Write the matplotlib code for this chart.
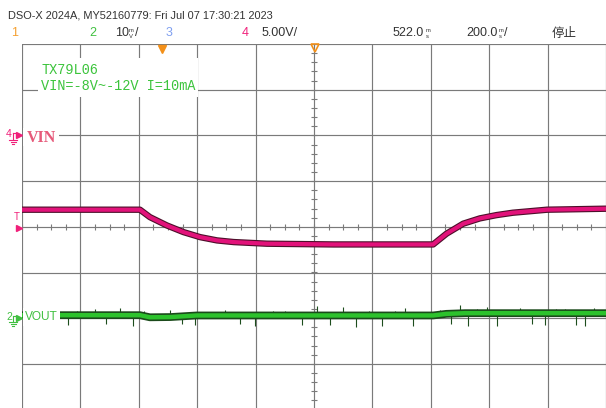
import numpy as np
import matplotlib.pyplot as plt
from matplotlib.patches import Rectangle

# scope settings
t_per_div = 200.0      # ms/div
t_delay = 522.0        # ms at screen centre
ch4_scale = 5.0        # V/div  (VIN)
ch4_offset = 2.0       # ground marker, divisions above centre
ch2_scale = 10.0       # mV/div (VOUT)
ch2_offset = -2.0      # ground marker, divisions below centre

# channel 4: VIN (V)
vin_t = [-478, -74, -40, 18, 75, 132, 190, 247, 361, 590, 930, 976, 1033, 1090, 1147, 1203, 1320, 1522]
vin_v = [-8.13, -8.13, -8.94, -9.85, -10.58, -11.13, -11.49, -11.67, -11.85, -11.93, -11.93,
         -10.75, -9.66, -9.08, -8.72, -8.46, -8.13, -8.02]

# channel 2: VOUT deviation (mV)
vout_t = [-478, -74, -40, 30, 120, 930, 975, 1040, 1522]
vout_mv = [0.66, 0.66, 0.2, 0.25, 0.6, 0.6, 0.95, 1.1, 1.1]

# noise spikes on VOUT
spike_t = [-320, -290, -228, -190, -142, -98, -60, 29, 70, 114, 160, 217, 270, 320, 380, 423,
           480, 532, 577, 621, 666, 710, 755, 800, 834, 861, 900, 953, 990, 1022, 1049, 1080,
           1114, 1149, 1190, 1227, 1270, 1313, 1350, 1382, 1420, 1450, 1480, 1501]
spike_mv = [-1.5, 1.6, 2.0, -1.3, 2.2, -1.6, 1.5, 1.9, -1.2, -1.5, 1.4, 1.8, -1.3, -1.8, 1.5, 1.6,
            -1.4, 2.6, -1.4, 2.4, -1.9, 1.5, -1.6, 1.6, 2.3, -1.8, 1.4, 1.8, -1.2, 2.8, -1.6, 2.0,
            2.4, -1.7, 1.9, 2.2, -1.3, -1.5, 2.1, 2.0, -1.4, -1.6, 2.2, 1.8]

header = "DSO-X 2024A, MY52160779: Fri Jul 07 17:30:21 2023"
note_lines = ["TX79L06", "VIN=-8V~-12V I=10mA"]

W, H = 606, 408
sans = ['Liberation Sans', 'DejaVu Sans']

def tdiv(t):
    return (np.asarray(t, float) - t_delay) / t_per_div + 5


fig = plt.figure(figsize=(W / 100, H / 100), dpi=100)
fig.patch.set_facecolor('white')

# graticule: 10 x 8 divisions, bottom edge runs just off the image
ax = fig.add_axes([22 / W, 1 - 409.6 / H, 584 / W, 365.6 / H])
ax.set_xlim(0, 10)
ax.set_ylim(-4, 4)
ax.axis('off')
grid_c = '#7a7a7a'
for i in range(11):
    ax.axvline(i, color=grid_c, lw=0.85, zorder=1)
for j in range(-4, 5):
    ax.axhline(j, color=grid_c, lw=0.85, zorder=1)
hx = np.arange(0, 10.01, 0.25)
ax.plot(hx, np.zeros_like(hx), ls='none', marker='|', ms=4.5, mew=0.8, color=grid_c, zorder=1)
vy = np.arange(-4, 4.01, 0.2)
ax.plot(np.full_like(vy, 5), vy, ls='none', marker='_', ms=4.5, mew=0.8, color=grid_c, zorder=1)

# VIN trace
x4 = tdiv(vin_t)
y4 = np.asarray(vin_v) / ch4_scale + ch4_offset
ax.plot(x4, y4, color='#4d0f2a', lw=4.6, solid_capstyle='butt', zorder=3)
ax.plot(x4, y4, color='#e2127a', lw=3.0, solid_capstyle='butt', zorder=4)

# VOUT trace with noise spikes
x2 = tdiv(vout_t)
y2 = np.asarray(vout_mv) / ch2_scale + ch2_offset
sx = tdiv(spike_t)
sbase = np.interp(spike_t, vout_t, vout_mv) / ch2_scale + ch2_offset
ax.vlines(sx, sbase, np.asarray(spike_mv) / ch2_scale + ch2_offset, color='#1d4d1d', lw=0.8, zorder=3)
ax.plot(x2, y2, color='#1b4a1b', lw=5.6, solid_capstyle='butt', zorder=3)
ax.plot(x2, y2, color='#2cc22c', lw=3.2, solid_capstyle='butt', zorder=4)

# overlay in pixel coordinates for labels and markers
ov = fig.add_axes([0, 0, 1, 1], zorder=5)
ov.set_xlim(0, W)
ov.set_ylim(H, 0)
ov.axis('off')
ov.patch.set_alpha(0)

# header
txt_c = '#333333'
ov.text(8, 16, header, fontsize=7.9, family=sans, color=txt_c, va='center')
row_y = 33
fs = 9
ov.text(11, row_y, '1', fontsize=fs, family=sans, color='#f5a030', va='center')
ov.text(89, row_y, '2', fontsize=fs, family=sans, color='#40c040', va='center')
ov.text(115, row_y, '10', fontsize=fs, family=sans, color=txt_c, va='center')
ov.text(128.5, 30, 'm', fontsize=4.2, family=sans, color=txt_c, va='center')
ov.text(129, 36, 'V', fontsize=4.2, family=sans, color=txt_c, va='center')
ov.text(135, row_y, '/', fontsize=fs, family=sans, color=txt_c, va='center')
ov.text(166, row_y, '3', fontsize=fs, family=sans, color='#7f9ff0', va='center')
ov.text(242, row_y, '4', fontsize=fs, family=sans, color='#f0207a', va='center')
ov.text(262, row_y, '5.00V/', fontsize=fs, family=sans, color=txt_c, va='center')
ov.text(393, row_y, '522.0', fontsize=fs, family=sans, color=txt_c, va='center')
ov.text(425.5, 30, 'm', fontsize=4.2, family=sans, color=txt_c, va='center')
ov.text(426, 36, 's', fontsize=4.2, family=sans, color=txt_c, va='center')
ov.text(466, row_y, '200.0', fontsize=fs, family=sans, color=txt_c, va='center')
ov.text(498.5, 30, 'm', fontsize=4.2, family=sans, color=txt_c, va='center')
ov.text(499, 36, 's', fontsize=4.2, family=sans, color=txt_c, va='center')
ov.text(504, row_y, '/', fontsize=fs, family=sans, color=txt_c, va='center')
ov.text(552, row_y, '停止', fontsize=9, family=['Noto Sans CJK SC', 'DejaVu Sans'],
        color=txt_c, va='center')

# trigger markers on top edge
orange = '#f39019'
ov.plot(162, 48.5, marker='v', ms=6, color=orange, mec=orange)
ov.plot(315, 48, marker='v', ms=6, mfc='none', mec=orange, mew=1.2)

# annotation box
ov.add_patch(Rectangle((38, 58), 160, 39, facecolor='white', edgecolor='none'))
for k, line in enumerate(note_lines):
    ov.text(41, 70 + 15.5 * k, line, fontsize=9.8, family=['Liberation Mono', 'DejaVu Sans Mono'],
            color='#3cc43c', va='center')


def ground_marker(y, num, color):
    ov.text(6, y - 1, num, fontsize=7.5, family=sans, color=color, va='center')
    ov.plot([13, 13], [y - 2, y + 4], color=color, lw=0.8)
    ov.plot([13, 17], [y - 2, y - 2], color=color, lw=0.8)
    for dy, hw in [(4.5, 4), (6.5, 2.5), (8.5, 1)]:
        ov.plot([13 - hw, 13 + hw], [y + dy, y + dy], color=color, lw=0.8)
    ov.plot(19, y, marker='>', ms=4.5, color=color, mec=color)


ground_marker(135, '4', '#f0207a')
ground_marker(317.5, '2', '#40c040')

# trigger level
ov.text(17, 217, 'T', fontsize=7, family=sans, color='#f0207a', va='center', ha='center')
ov.plot(19, 228, marker='>', ms=4.5, color='#f0207a', mec='#f0207a')

# channel labels
ov.add_patch(Rectangle((23, 128), 36, 18, facecolor='white', edgecolor='none'))
ov.text(27, 138, 'VIN', fontsize=11.5, family=['Liberation Serif', 'DejaVu Serif'],
        weight='bold', color='#e65a7a', va='center')
ov.add_patch(Rectangle((23, 308), 37, 18, facecolor='white', edgecolor='none'))
ov.text(25, 317, 'VOUT', fontsize=8.6, family=sans, color='#40c040', va='center')

fig.savefig('out.png', dpi=100, facecolor='white')
